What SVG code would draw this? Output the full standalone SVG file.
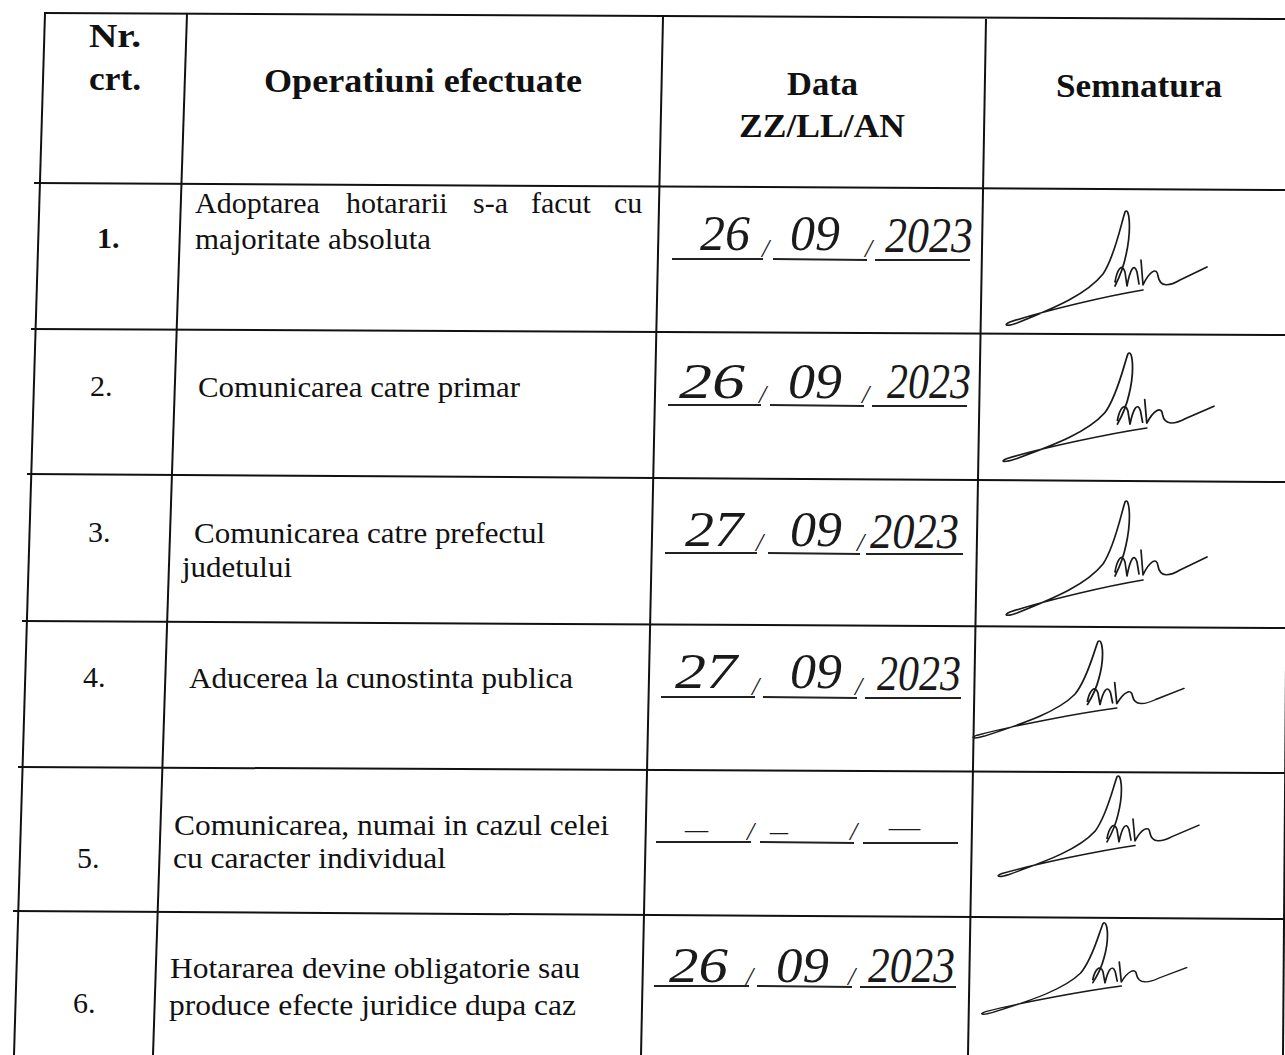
<svg xmlns="http://www.w3.org/2000/svg" xmlns:xlink="http://www.w3.org/1999/xlink" width="1285" height="1055" viewBox="0 0 1285 1055">
<style>
.g{stroke:#111;stroke-width:2;fill:none}
.h{font-family:"Liberation Serif","Times New Roman",serif;font-weight:bold;font-size:34px;fill:#111}
.t{font-family:"Liberation Serif","Times New Roman",serif;font-size:30px;fill:#111}
.n{font-family:"Liberation Serif","Times New Roman",serif;font-size:30px;fill:#111}
.d{font-family:"Liberation Serif","Times New Roman",serif;font-style:italic;font-size:50px;fill:#1a1a1a}
.s{font-family:"Liberation Serif","Times New Roman",serif;font-style:italic;font-size:26px;fill:#1a1a1a}
.u{stroke:#222;stroke-width:2}
.sig{stroke:#1a1a1a;stroke-width:1.7;fill:none;stroke-linecap:round;stroke-linejoin:round}
</style>
<defs>
<path id="sig" d="M16,80 C-20,86 -80,100 -117,112 C-124,115 -121,117 -110,113 C-70,97 -40,84 -24,64 C-12,46 -6,14 -2,2 C2,-4 5,18 -1,45 C-4,60 -10,72 -12,76 M-12,72 C-10,60 -5,52 -2,62 L0,76 C3,60 7,52 10,62 L12,74 M14,50 L16,75 C22,62 30,56 31,66 C33,78 43,76 53,70 L80,57"/>
</defs>
<rect width="1285" height="1055" fill="#fff"/>
<g id="grid" class="g">
<line x1="44" y1="13" x2="1285" y2="19"/>
<line x1="34" y1="183" x2="1285" y2="190"/>
<line x1="31" y1="329" x2="1285" y2="335"/>
<line x1="27" y1="474" x2="1285" y2="482"/>
<line x1="22" y1="621" x2="1285" y2="628"/>
<line x1="18" y1="767" x2="1285" y2="773"/>
<line x1="13" y1="911" x2="1285" y2="919"/>
<line x1="45" y1="13" x2="14" y2="1055"/>
<line x1="187" y1="14" x2="153" y2="1055"/>
<line x1="663" y1="17" x2="641" y2="1055"/>
<line x1="986" y1="19" x2="968" y2="1055"/>
<line x1="1291" y1="19" x2="1283" y2="1055"/>
</g>
<g id="header">
<text class="h" x="89" y="47" textLength="52" lengthAdjust="spacingAndGlyphs">Nr.</text>
<text class="h" x="89" y="90" textLength="52" lengthAdjust="spacingAndGlyphs">crt.</text>
<text class="h" x="264" y="92" textLength="318" lengthAdjust="spacingAndGlyphs">Operatiuni efectuate</text>
<text class="h" x="787" y="95" textLength="71" lengthAdjust="spacingAndGlyphs">Data</text>
<text class="h" x="739" y="137" textLength="166" lengthAdjust="spacingAndGlyphs">ZZ/LL/AN</text>
<text class="h" x="1056" y="97" textLength="166" lengthAdjust="spacingAndGlyphs">Semnatura</text>
</g>
<g id="row1">
<text class="n" x="97" y="248" font-weight="bold">1.</text>
<text class="t" y="213"><tspan x="195">Adoptarea</tspan> <tspan x="346">hotararii</tspan> <tspan x="473">s-a</tspan> <tspan x="531">facut</tspan> <tspan x="614">cu</tspan></text>
<text class="t" x="195" y="249" textLength="236" lengthAdjust="spacingAndGlyphs">majoritate absoluta</text>
<text class="d" x="700" y="250" textLength="50" lengthAdjust="spacingAndGlyphs">26</text>
<text class="s" x="762" y="257">/</text>
<text class="d" x="790" y="250" textLength="50" lengthAdjust="spacingAndGlyphs">09</text>
<text class="s" x="865" y="257">/</text>
<text class="d" x="885" y="252" textLength="88" lengthAdjust="spacingAndGlyphs">2023</text>
<line class="u" x1="672" y1="259" x2="763" y2="259"/><line class="u" x1="773" y1="259" x2="867" y2="260"/><line class="u" x1="875" y1="260" x2="970" y2="260"/>
<use xlink:href="#sig" href="#sig" class="sig" transform="translate(1127,210)"/>
</g>
<g id="row2">
<text class="n" x="90" y="396">2.</text>
<text class="t" x="198" y="397" textLength="322" lengthAdjust="spacingAndGlyphs">Comunicarea catre primar</text>
<text class="d" x="679" y="398" textLength="66" lengthAdjust="spacingAndGlyphs">26</text>
<text class="s" x="759" y="403">/</text>
<text class="d" x="788" y="398" textLength="54" lengthAdjust="spacingAndGlyphs">09</text>
<text class="s" x="862" y="403">/</text>
<text class="d" x="887" y="398" textLength="84" lengthAdjust="spacingAndGlyphs">2023</text>
<line class="u" x1="668" y1="405" x2="761" y2="405"/><line class="u" x1="770" y1="405" x2="864" y2="406"/><line class="u" x1="872" y1="406" x2="967" y2="406"/>
<use xlink:href="#sig" href="#sig" class="sig" transform="translate(1130,352) scale(1.05,0.95)"/>
</g>
<g id="row3">
<text class="n" x="88" y="542">3.</text>
<text class="t" x="194" y="543" textLength="351" lengthAdjust="spacingAndGlyphs">Comunicarea catre prefectul</text>
<text class="t" x="182" y="577" textLength="110" lengthAdjust="spacingAndGlyphs">judetului</text>
<text class="d" x="685" y="546" textLength="58" lengthAdjust="spacingAndGlyphs">27</text>
<text class="s" x="756" y="551">/</text>
<text class="d" x="790" y="546" textLength="52" lengthAdjust="spacingAndGlyphs">09</text>
<text class="s" x="857" y="551">/</text>
<text class="d" x="870" y="548" textLength="89" lengthAdjust="spacingAndGlyphs">2023</text>
<line class="u" x1="665" y1="553" x2="757" y2="553"/><line class="u" x1="768" y1="553" x2="860" y2="554"/><line class="u" x1="866" y1="554" x2="963" y2="554"/>
<use xlink:href="#sig" href="#sig" class="sig" transform="translate(1127,500)"/>
</g>
<g id="row4">
<text class="n" x="83" y="687">4.</text>
<text class="t" x="189" y="688" textLength="384" lengthAdjust="spacingAndGlyphs">Aducerea la cunostinta publica</text>
<text class="d" x="675" y="688" textLength="62" lengthAdjust="spacingAndGlyphs">27</text>
<text class="s" x="752" y="695">/</text>
<text class="d" x="790" y="688" textLength="52" lengthAdjust="spacingAndGlyphs">09</text>
<text class="s" x="855" y="695">/</text>
<text class="d" x="877" y="690" textLength="84" lengthAdjust="spacingAndGlyphs">2023</text>
<line class="u" x1="661" y1="697" x2="755" y2="697"/><line class="u" x1="763" y1="697" x2="857" y2="698"/><line class="u" x1="865" y1="698" x2="961" y2="698"/>
<use xlink:href="#sig" href="#sig" class="sig" transform="translate(1100,640) scale(1.05,0.85)"/>
</g>
<g id="row5">
<text class="n" x="77" y="868">5.</text>
<text class="t" x="174" y="835" textLength="435" lengthAdjust="spacingAndGlyphs">Comunicarea, numai in cazul celei</text>
<text class="t" x="173" y="868" textLength="273" lengthAdjust="spacingAndGlyphs">cu caracter individual</text>
<text class="s" x="685" y="838" textLength="23" lengthAdjust="spacingAndGlyphs">–</text>
<text class="s" x="747" y="840">/</text>
<text class="s" x="770" y="840" textLength="18" lengthAdjust="spacingAndGlyphs">–</text>
<text class="s" x="850" y="840">/</text>
<text class="s" x="889" y="836" textLength="31" lengthAdjust="spacingAndGlyphs">–</text>
<line class="u" x1="656" y1="842" x2="751" y2="842"/><line class="u" x1="760" y1="842" x2="854" y2="843"/><line class="u" x1="863" y1="843" x2="958" y2="843"/>
<use xlink:href="#sig" href="#sig" class="sig" transform="translate(1119,775) scale(1,0.88)"/>
</g>
<g id="row6">
<text class="n" x="73" y="1013">6.</text>
<text class="t" x="170" y="978" textLength="410" lengthAdjust="spacingAndGlyphs">Hotararea devine obligatorie sau</text>
<text class="t" x="169" y="1015" textLength="407" lengthAdjust="spacingAndGlyphs">produce efecte juridice dupa caz</text>
<text class="d" x="669" y="982" textLength="59" lengthAdjust="spacingAndGlyphs">26</text>
<text class="s" x="746" y="985">/</text>
<text class="d" x="776" y="982" textLength="53" lengthAdjust="spacingAndGlyphs">09</text>
<text class="s" x="848" y="985">/</text>
<text class="d" x="868" y="982" textLength="87" lengthAdjust="spacingAndGlyphs">2023</text>
<line class="u" x1="654" y1="986" x2="749" y2="986"/><line class="u" x1="757" y1="986" x2="852" y2="987"/><line class="u" x1="860" y1="987" x2="956" y2="987"/>
<use xlink:href="#sig" href="#sig" class="sig" transform="translate(1105,922) scale(1.02,0.8)"/>
</g>
</svg>
